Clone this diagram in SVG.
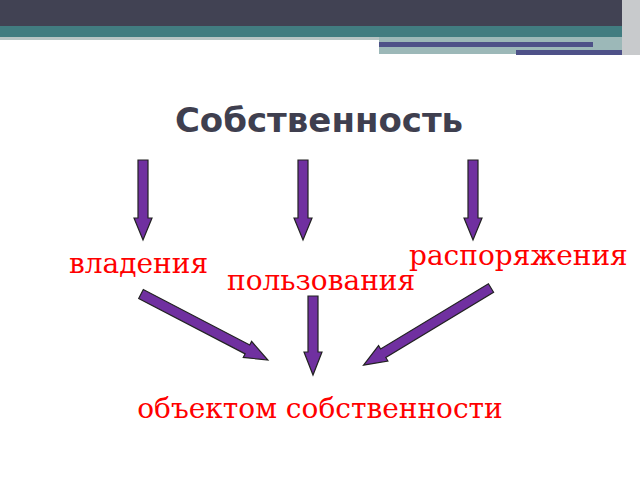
<svg xmlns="http://www.w3.org/2000/svg" width="640" height="480" viewBox="0 0 640 480">
<style>
.a{fill:#7030a0;stroke:#222;stroke-width:1.2}
.l{font-family:"DejaVu Serif",serif;font-size:28px;fill:#ff0000}
</style>
<rect width="640" height="480" fill="#fff"/>
<g id="banner">
<rect x="0" y="0" width="640" height="26" fill="#414253"/>
<rect x="0" y="26" width="640" height="11" fill="#417c80"/>
<rect x="0" y="37" width="379" height="3" fill="#b8c4c4"/>
<rect x="379" y="37" width="261" height="17" fill="#9cb8b8"/>
<rect x="379" y="42" width="214" height="5" fill="#4e5188"/>
<rect x="516" y="50" width="112" height="5" fill="#4e5188"/>
<rect x="622" y="0" width="18" height="55" fill="#c8cacc"/>
</g>
<g id="title"><text x="319" y="132" text-anchor="middle" font-family="DejaVu Sans,sans-serif" font-weight="bold" font-size="34" fill="#3f3f4f">Собственность</text></g>
<g id="connectors">
<polygon class="a" transform="translate(143,160)" points="-5,0 5,0 5,58 9,58 0,80 -9,58 -5,58"/>
<polygon class="a" transform="translate(303,160)" points="-5,0 5,0 5,58 9,58 0,80 -9,58 -5,58"/>
<polygon class="a" transform="translate(473,160)" points="-5,0 5,0 5,58 9,58 0,80 -9,58 -5,58"/>
<polygon class="a" transform="translate(141,294) rotate(-62.5)" points="-5,0 5,0 5,120 9,120 0,143 -9,120 -5,120"/>
<polygon class="a" transform="translate(313,296)" points="-5,0 5,0 5,56 9,56 0,79 -9,56 -5,56"/>
<polygon class="a" transform="translate(491,288) rotate(58.8)" points="-5,0 5,0 5,126 9,126 0,149 -9,126 -5,126"/>
</g>
<g id="n1"><text class="l" x="69" y="273">владения</text></g>
<g id="n2"><text class="l" x="227" y="290">пользования</text></g>
<g id="n3"><text class="l" x="409" y="265">распоряжения</text></g>
<g id="n4"><text class="l" x="320" y="418" text-anchor="middle">объектом собственности</text></g>
</svg>
